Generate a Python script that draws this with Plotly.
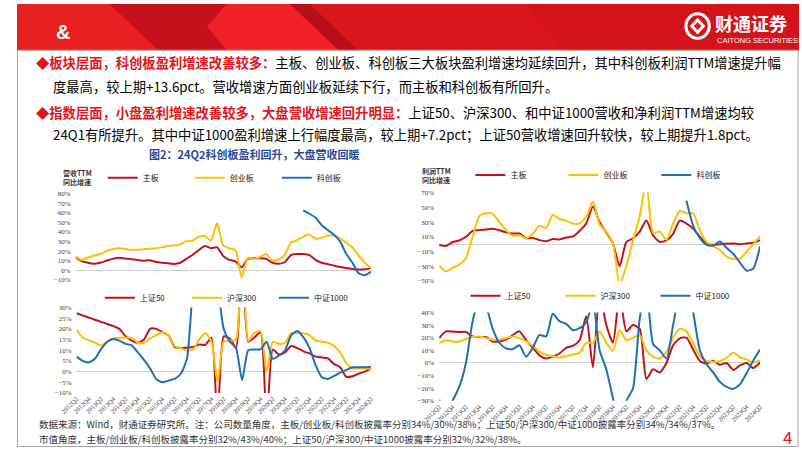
import plotly.graph_objects as go

W, H = 802, 451

# ---------------- data ----------------
quarters = [f"{y}Q{q}" for y in range(2012, 2025) for q in range(1, 5)][1:50]  # 2012Q2 .. 2024Q2
tick_labels = quarters[::2]

# top-left: revenue TTM yoy (%) by board
rev_main = [13.7, 9.6, 8, 7, 8, 10, 12, 13.2, 12.5, 11.5, 11, 10, 10.5, 9, 8, 7.5, 6.8, 8, 12, 16,
            21, 25.5, 23, 24, 15, 11, 9.5, 3, 12, 12.6, 12.6, 12, 8, 7, 8.5, 16, 17, 17, 16, 11,
            8, 6.5, 5, 3.5, 2.5, 1.5, 1, 1.2, 2.4]
rev_gem = [14.7, 11, 13.5, 15.5, 17, 20, 22, 23, 22.5, 21.5, 21.5, 22, 22.5, 23, 24, 25.5, 26, 27, 30.5, 31,
           35, 36, 31, 49, 26, 23, 21, -7.5, 13, 12, 14, 17, 10, 11.5, 16, 29, 31.5, 35, 37.5, 33,
           34, 36, 36.5, 33.5, 28.5, 24, 15.5, 8, 2.4]
rev_star = [None] * 37 + [62.5, 59, 55, 47, 42, 37, 30, 17, 8, -3, -5, -1.5]

# top-right: profit TTM yoy (%) by board
prof_main = [-1, -2.5, 3, 5, 10, 18, 19, 20, 21, 19, 16, 14.4, 14.4, 8, 8.5, 5.5, 4, 7, 6.5, 9,
             10.5, 18, 28, 51, 30, 16, 1, -30, 3, 8, 17, 32, 12, 3, 5, 14, 32, 28, 21, 10,
             1, -1, 0, 0.5, 1, 0, 1, 2, 5.5]
prof_gem = [-29, -37, -32, -28, -19, 10, 38, 42, 41, 30, 19, 11.5, 12, 8, 14, 25, 22, 40, 34, 32,
            28, 28, 37, 58, 27, 17, 1, -55, -30, 5, 38, 85, 15, 17, 6, 28, 45, 42, 42, 19,
            3, -3, -8, -17, -20, -20, -10, 0, 11]
prof_star = [None] * 37 + [59, 25, 8, -1, -2, 3.5, -5, -13, -25, -36, -33, -3]

# bottom-left: revenue TTM yoy (%) by index
rev_sz50 = [27.3, 26.3, 25.3, 24.3, 23.3, 22.3, 21.3, 20, 16.5, 14.5, 13.5, 15, 20, 20, 18.5, 17, 11.5, 11, 11.2, 11.5,
            12.7, 12.5, 15.8, -25, 16.5, 15.5, 11, 60, 14, 16, 18.4, -25, 10.4, 8, 9, 12, 11, 9.5, 8.5, 7,
            6.6, 6.2, 3.5, 2, -2.5, -2.2, -1, 0, 1.5]
rev_hs300 = [19.6, 16, 14.7, 13.5, 12.2, 14, 15.5, 15.8, 15.8, 15.8, 13.5, 13.5, 15.5, 17, 18.4, 17, 12, 11, 9.8, 10.4,
             15, 18, 14, -5, 14, 14.5, 15, 60, 14.3, 18, 19, 0, 14, 13, 13.5, 18, 18, 18, 17, 14.5,
             14, 13.5, 12, 9, 4, 1.5, 1.5, 1.5, 1.5]
rev_zz1000 = [7, 5, 4.3, 6, 10.5, 14, 15.3, 14.5, 13, 12.3, 9, 5.5, 1.5, -3.5, -5, -4.2, -3.4, -1, 6, 40,
              60, 60, 50, 40, 20, 14, 11, -4, 10, 10.4, 10.4, 14, 6, 7.5, 10, 17, 19, 16, 11, 2.8,
              -2.6, -3.4, -2, -0.5, 0.8, 2, 2, 2, 2.3]

# bottom-right: profit TTM yoy (%) by index
prof_sz50 = [19.7, 25, 24.9, 24.5, 24.5, 21, 20.5, 20.5, 17, 17, 18.4, 22, 25, 18, 12, 6, 3.5, 5, 7.5, 12,
             13.5, 18, 37, -3.6, 55, 30, 16, 55, 25, 30, 27, -12.7, -5, -7.5, 0, 14, 19.5, 20, 10.6, 1.5,
             -0.5, 1.5, -1.5, 0, -5.5, -2, 0, -4, 0.3]
prof_hs300 = [15.8, 17.9, 17, 17, 19, 20.5, 21, 19.7, 18.4, 18.4, 19.7, 21, 19.5, 17, 13.5, 9, 6.5, 5.3, 4.3, 5.4,
              6.7, 8, 16, 16, 25, 16, 9.5, 26, 18, 20, 22, 10, 5, 3.5, 9, 20, 27, 25, 15.8, 5.4,
              1.5, 0.8, 1.5, 4, 8, 4.5, 2.8, 0.3, 2.3]
prof_zz1000 = [-29, -40, -30, -19, 0, 33, 50, 45, 27, 16, 11.5, 11, 14, 5, 12, 22, 21, 39, 33, 31,
               26, 27.5, 32, 48, 10, -5, -28, -50, -30, -20, 35, 60, 15, 10, 3.5, 30, 55, 60, 40, 10,
               -1, -7.5, -15, -19, -20.5, -17, -8, 2, 10.6]

board_names = ["主板", "创业板", "科创板"]
index_names = ["上证50", "沪深300", "中证1000"]

RED, YEL, BLU = "#C0141C", "#FFC000", "#1F6EB8"
colors = [RED, YEL, BLU]

# ---------------- helpers (layout positions) ----------------
def fx(p):
    return p / W

def fy(p):
    return 1 - p / H

fig = go.Figure()

panels = [
    ([rev_main, rev_gem, rev_star], board_names, "x", "y", "legend"),
    ([prof_main, prof_gem, prof_star], board_names, "x2", "y2", "legend2"),
    ([rev_sz50, rev_hs300, rev_zz1000], index_names, "x3", "y3", "legend3"),
    ([prof_sz50, prof_hs300, prof_zz1000], index_names, "x4", "y4", "legend4"),
]
for series, names, xa, ya, lg in panels:
    for s, n, c in zip(series, names, colors):
        fig.add_trace(go.Scatter(
            x=quarters, y=s, name=n, mode="lines",
            line=dict(color=c, width=2, shape="spline", smoothing=0.6),
            xaxis=xa, yaxis=ya, legend=lg, connectgaps=False,
        ))

tickfont = dict(family="Liberation Serif", size=7, color="#404040")
xtickfont = dict(family="Liberation Serif", size=6.5, color="#404040")

def xax(d0, d1, anchor, labels):
    return dict(domain=[fx(d0), fx(d1)], anchor=anchor, type="category",
                range=[0, 48], showgrid=False, zeroline=False, showline=False,
                showticklabels=labels, tickmode="array", tickvals=tick_labels,
                tickangle=-45, tickfont=xtickfont, ticks="")

def yax(top, bot, anchor, rng, dtick):
    return dict(domain=[fy(bot), fy(top)], anchor=anchor, range=rng, dtick=dtick,
                tick0=rng[0], ticksuffix="%", showgrid=False, zeroline=True,
                zerolinecolor="#D0D0D0", zerolinewidth=1, showline=False,
                tickfont=tickfont, ticklabelstandoff=4)

fig.update_layout(
    xaxis=xax(60, 363, "y", False),
    yaxis=yax(193, 281, "x", [-10, 80], 10),
    xaxis2=xax(433, 762, "y2", False),
    yaxis2=yax(192, 282, "x2", [-50, 70], 20),
    xaxis3=xax(61, 363, "y3", True),
    yaxis3=yax(309, 396, "x3", [-10, 30], 5),
    xaxis4=xax(433, 762, "y4", True),
    yaxis4=yax(314, 404, "x4", [-30, 40], 10),
)

legfont = dict(family="Noto Sans CJK SC", size=8, color="#222222")
def leg(x, y, ew):
    return dict(orientation="h", x=fx(x), y=fy(y), xanchor="left", yanchor="middle",
                font=legfont, bgcolor="rgba(0,0,0,0)", itemwidth=30,
                entrywidth=ew, entrywidthmode="pixels", tracegroupgap=0)

fig.update_layout(
    legend=leg(88, 177, 42),
    legend2=leg(465, 174, 48),
    legend3=leg(85, 299, 42),
    legend4=leg(460, 297, 50),
)

# ---------------- slide decoration ----------------
shapes = []
shapes.append(dict(type="rect", xref="paper", yref="paper", x0=0, x1=1, y0=fy(47), y1=1,
                   fillcolor="#DA151C", line=dict(width=0), layer="below"))
def poly(pts, color):
    d = "M " + " L ".join(f"{fx(a)},{fy(b)}" for a, b in pts) + " Z"
    return dict(type="path", xref="paper", yref="paper", path=d, fillcolor=color,
                line=dict(width=0), layer="below")
shapes.append(poly([(0, 0), (95, 0), (145, 47), (0, 47)], "#E8201F"))
shapes.append(poly([(95, 0), (215, 0), (195, 23), (215, 47), (145, 47)], "#C8101A"))
shapes.append(poly([(215, 0), (280, 0), (330, 47), (215, 47), (195, 23)], "#EE2226"))
shapes.append(poly([(280, 0), (300, 0), (350, 47), (330, 47)], "#B80E17"))
shapes.append(poly([(520, 0), (802, 0), (802, 47), (560, 47)], "#D5131B"))
shapes.append(dict(type="circle", xref="paper", yref="paper", x0=fx(686), x1=fx(710),
                   y0=fy(35), y1=fy(10), line=dict(color="white", width=3)))
shapes.append(poly([(698, 14), (706, 22.5), (698, 31), (690, 22.5)], "white"))
shapes.append(poly([(698, 18.5), (702, 22.5), (698, 26.5), (694, 22.5)], "#DA151C"))
shapes.append(dict(type="rect", xref="paper", yref="paper", x0=fx(0.5), x1=fx(801), y0=fy(450.5), y1=fy(47),
                   line=dict(color="#A6A6A6", width=1), fillcolor="rgba(0,0,0,0)"))
fig.update_layout(shapes=shapes)

ann = []
def text(x, y, t, size, color="#000", family="Noto Sans CJK SC", xanchor="left", yanchor="middle", align="left"):
    ann.append(dict(xref="paper", yref="paper", x=fx(x), y=fy(y), text=t, showarrow=False,
                    xanchor=xanchor, yanchor=yanchor, align=align,
                    font=dict(size=size, color=color, family=family)))

text(38, 28, "<b>&</b>", 20, "white", "Liberation Sans")
text(714, 19, "<b>财通证券</b>", 18, "white")
text(716, 37, "CAITONG SECURITIES", 7.5, "white", "Liberation Sans")

R = "#E2141C"
text(17, 60, f"<span style='color:{R}'><b>◆板块层面，科创板盈利增速改善较多：</b></span>主板、创业板、科创板三大板块盈利增速均延续回升，其中科创板利润TTM增速提升幅", 13.3)
text(35, 84, "度最高，较上期+13.6pct。营收增速方面创业板延续下行，而主板和科创板有所回升。", 13.3)
text(17, 110, f"<span style='color:{R}'><b>◆指数层面，小盘盈利增速改善较多，大盘营收增速回升明显：</b></span>上证50、沪深300、和中证1000营收和净利润TTM增速均较", 13.3)
text(35, 133, "24Q1有所提升。其中中证1000盈利增速上行幅度最高，较上期+7.2pct；上证50营收增速回升较快，较上期提升1.8pct。", 13.3)
text(243, 153, "<b>图2：24Q2科创板盈利回升，大盘营收回暖</b>", 11, "#2B4A9B", xanchor="center")

text(45, 177, "<b>营收TTM<br>同比增速</b>", 7, "#333", align="left")
text(413, 175, "<b>利润TTM<br>同比增速</b>", 7, "#333", align="left")

text(20, 428, "数据来源：Wind，财通证券研究所。注：公司数量角度，主板/创业板/科创板披露率分别34%/30%/38%；上证50/沪深300/中证1000披露率分别34%/34%/37%。", 9.5, "#333")
text(20, 443, "市值角度，主板/创业板/科创板披露率分别32%/43%/40%；上证50/沪深300/中证1000披露率分别32%/32%/38%。", 9.5, "#333")
text(790, 440, "4", 17, "#E2141C", xanchor="center")

fig.update_layout(annotations=ann)

fig.update_layout(width=W, height=H, margin=dict(l=0, r=0, t=0, b=0),
                  paper_bgcolor="white", plot_bgcolor="white", showlegend=True)

fig.write_html("out.html")
